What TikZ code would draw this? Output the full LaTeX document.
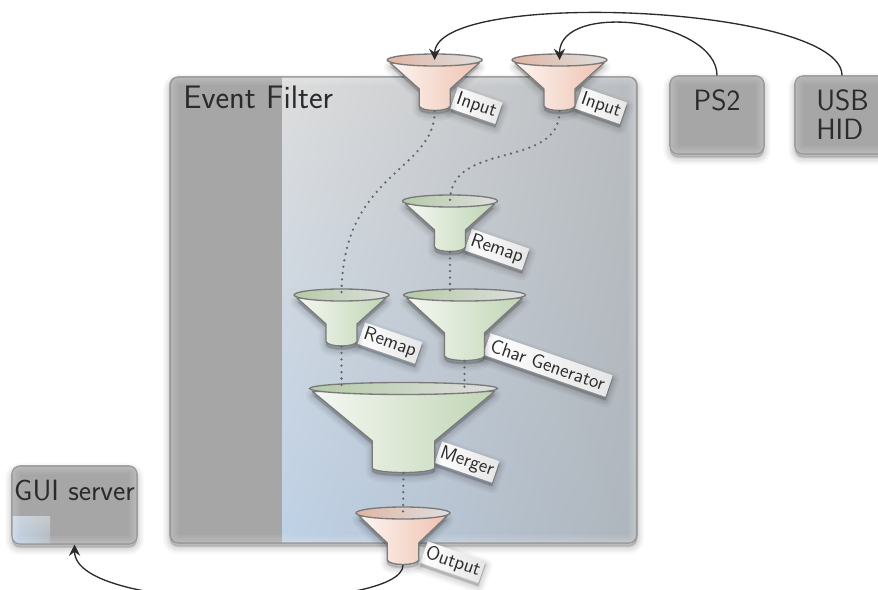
\documentclass[tikz,border=0pt]{standalone}
\usetikzlibrary{arrows.meta,shadings}
\definecolor{ink}{HTML}{2B2B2B}
\definecolor{boxgrey}{HTML}{A6A6A6}
\definecolor{boxedge}{HTML}{989898}
\definecolor{rimline}{HTML}{7A7A7A}
\definecolor{dotcol}{HTML}{5E666E}
\definecolor{pbodyl}{HTML}{FDF5F1}
\definecolor{pbodyr}{HTML}{EEC3B1}
\definecolor{primL}{HTML}{E0B6A4}
\definecolor{gbodyl}{HTML}{F5F8F3}
\definecolor{gbodyr}{HTML}{C0D5B4}
\definecolor{grimL}{HTML}{B4CBA6}
\definecolor{rimR}{HTML}{DEDEDE}
\definecolor{ulc}{HTML}{DDDDDD}
\definecolor{llc}{HTML}{BED1E6}
\definecolor{urc}{HTML}{B8BCC0}
\definecolor{lrc}{HTML}{AEB5BC}
\tikzset{
  softshadow/.style={
    preaction={draw=black,fill=black,opacity=.03,line width=10pt,line join=round,transform canvas={yshift=-3pt}},
    preaction={draw=black,fill=black,opacity=.035,line width=7pt,line join=round,transform canvas={yshift=-3pt}},
    preaction={draw=black,fill=black,opacity=.04,line width=4.5pt,line join=round,transform canvas={yshift=-3pt}},
    preaction={draw=black,fill=black,opacity=.04,line width=2.5pt,line join=round,transform canvas={yshift=-2.5pt}},
    preaction={draw=black,fill=black,opacity=.04,line width=1pt,line join=round,transform canvas={yshift=-2pt}}},
  greybox/.style={draw=boxedge,line width=.8pt,fill=boxgrey,rounded corners=6pt,inner sep=0pt,softshadow},
  boxtext/.style={font=\fontsize{22}{26}\selectfont\sffamily,text=ink,inner sep=0pt,anchor=base},
  tag/.style={rotate=-19,inner sep=0pt,minimum height=17pt,left color=white,right color=black!10,
    font=\fontsize{14.5}{17}\selectfont\sffamily,text=ink,softshadow},
  pbody/.style={left color=pbodyl,right color=pbodyr},
  prim/.style={left color=primL,right color=rimR},
  gbody/.style={left color=gbodyl,right color=gbodyr},
  grim/.style={left color=grimL,right color=rimR},
  dotlink/.style={draw=dotcol,line width=1.9pt,line cap=round,dash pattern=on 0pt off 4.8pt},
  arrowlink/.style={draw=ink,line width=1pt,-{Stealth[length=8.5pt,width=8.5pt,inset=3pt]}}
}
% name, cx, cy, rx, neck half width, neck y, bottom y, body style, rim style
\newcommand\funnel[9]{%
  \path[#8,draw=rimline,line width=1pt,line join=round,softshadow]
    ({#2-#4+3},{#3+3}) -- ({#2-#5},#6) -- ({#2-#5},{#7-5})
    .. controls ({#2-#5+2},{#7+1}) and ({#2+#5-2},{#7+1}) .. ({#2+#5},{#7-5})
    -- ({#2+#5},#6) -- ({#2+#4-3},{#3+3}) -- cycle;
  \path[#9,draw=rimline,line width=1pt] (#2,#3) ellipse [x radius=#4, y radius=6];
  \coordinate (#1-top) at (#2,#3);
  \coordinate (#1-bot) at (#2,#7);
}
\newcommand\glow[1]{%
  \begin{scope}
    \clip #1;
    \foreach \w in {12,9,6,3.5,1.5}{\draw[white,opacity=.06,line width=\w pt] #1;}
  \end{scope}}
\begin{document}
\begin{tikzpicture}[x=.75pt,y=-.75pt]
\useasboundingbox (0,0) rectangle (878,589);
\clip (0,0) rectangle (878,589);
% Event filter
\node[greybox,minimum width=350.5pt,minimum height=349.5pt] (filter) at (403.5,310) {};
\begin{scope}
  \clip[rounded corners=6pt] (170.5,77) rectangle (636.5,543);
  \shade[upper left=ulc,upper right=urc,lower left=llc,lower right=lrc] (282,77) rectangle (637,543);
\end{scope}
\glow{[rounded corners=6pt] (170.5,77) rectangle (636.5,543)}
\draw[boxedge,line width=.8pt,rounded corners=6pt] (170.5,77) rectangle (636.5,543);
\node[boxtext,anchor=base west,font=\fontsize{24.4}{28}\selectfont\sffamily] (filtert) at (183,108) {Event Filter};
% Devices
\node[greybox,minimum width=70.5pt,minimum height=58.5pt] (ps2) at (717,115) {};
\glow{[rounded corners=6pt] (670,76) rectangle (764,154)}
\draw[boxedge,line width=.8pt,rounded corners=6pt] (670,76) rectangle (764,154);
\node[boxtext] (ps2t) at (717,110) {PS2};
\node[greybox,minimum width=70.5pt,minimum height=58.5pt] (usb) at (842,115) {};
\glow{[rounded corners=6pt] (795,76) rectangle (889,154)}
\draw[boxedge,line width=.8pt,rounded corners=6pt] (795,76) rectangle (889,154);
\node[boxtext,anchor=base west] (usbt) at (816,110) {USB};
\node[boxtext,anchor=base west] (hidt) at (816,139) {HID};
% GUI server
\node[greybox,minimum width=93.75pt,minimum height=58.5pt] (gui) at (74.5,505) {};
\begin{scope}
  \clip[rounded corners=6pt] (12,466) rectangle (137,544);
  \shade[upper left=llc!55!ulc,upper right=urc!60!ulc,lower left=llc,lower right=lrc] (12,516) rectangle (50,544);
\end{scope}
\glow{[rounded corners=6pt] (12,466) rectangle (137,544)}
\draw[boxedge,line width=.8pt,rounded corners=6pt] (12,466) rectangle (137,544);
\node[boxtext] (guit) at (74.5,500) {GUI server};
% Tags
\node[tag,minimum width=35.6pt] (t1) at (476.5,105.5) {Input};
\node[tag,minimum width=35.6pt] (t2) at (601,105.5) {Input};
\node[tag,minimum width=45.5pt] (t3) at (497,249.5) {Remap};
\node[tag,minimum width=45.5pt] (t4) at (390,343) {Remap};
\node[tag,minimum width=97pt] (t5) at (548,365) {Char Generator};
\node[tag,minimum width=45.5pt] (t6) at (467,462) {Merger};
\node[tag,minimum width=46pt] (t7) at (453,562) {Output};
% Funnels
\funnel{inA}{434.7}{60}{47.5}{15.5}{89}{111}{pbody}{prim}
\funnel{inB}{559.5}{60}{47.5}{15.5}{89}{111}{pbody}{prim}
\funnel{remapA}{450}{201}{47.5}{15.5}{230}{252}{gbody}{grim}
\funnel{remapB}{341.5}{295}{47.5}{15.5}{324}{346.5}{gbody}{grim}
\funnel{chargen}{464.5}{295}{61}{20}{333}{361}{gbody}{grim}
\funnel{merger}{403.5}{388.5}{94}{31.2}{441}{473}{gbody}{grim}
\funnel{outp}{403}{513}{47}{15.8}{543}{565}{pbody}{prim}
% Named ends of connectors
\coordinate (chargenIn) at (450,295);
\coordinate (mergerInA) at (341.5,388.5);
\coordinate (mergerInB) at (464.5,388.5);
% Dotted connectors
\path[dotlink] (inA-bot) .. controls (434.7,172) and (341.5,172) .. (remapB-top);
\path[dotlink] (inB-bot) .. controls (559.5,170) and (450,140) .. (remapA-top);
\path[dotlink] (remapA-bot) -- (chargenIn);
\path[dotlink] (remapB-bot) -- (mergerInA);
\path[dotlink] (chargen-bot) -- (mergerInB);
\path[dotlink] (merger-bot) -- (outp-top);
% Arrows
\path[arrowlink] (usb.north) .. controls (842,5) and (434.7,-12) .. (inA-top);
\path[arrowlink] (ps2.north) .. controls (717,20) and (559.5,0) .. (inB-top);
\path[arrowlink] (outp-bot) .. controls (404,612) and (75,615) .. (gui.south);
\end{tikzpicture}
\end{document}
